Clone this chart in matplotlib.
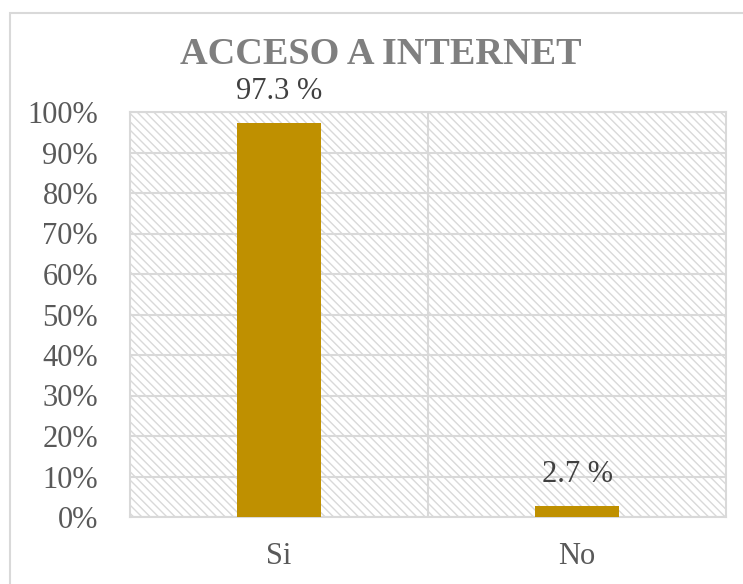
import matplotlib
matplotlib.use("Agg")
import matplotlib.pyplot as plt
from matplotlib.patches import Rectangle
from matplotlib.ticker import PercentFormatter

categories = ["Si", "No"]
values = [97.3, 2.7]
value_labels = ["97.3 %", "2.7 %"]
title = "ACCESO A INTERNET"

BAR_COLOR = "#BF9000"
GRID_COLOR = "#D9D9D9"
TEXT_COLOR = "#595959"

plt.rcParams["font.family"] = ["Liberation Serif", "DejaVu Serif"]
plt.rcParams["hatch.color"] = "#D9D9D9"
plt.rcParams["hatch.linewidth"] = 1.0

fig = plt.figure(figsize=(7.43, 5.84), dpi=100)
ax = fig.add_axes([130 / 743, 67 / 584, 596 / 743, 405 / 584])

# hatched plot background
bg = Rectangle((0, 0), 1, 1, transform=ax.transAxes, facecolor="white",
               edgecolor="#D9D9D9", linewidth=0, hatch="\\\\\\\\", zorder=0)
ax.add_patch(bg)

x = list(range(len(categories)))
ax.bar(x, values, width=0.28, color=BAR_COLOR, zorder=3)

for xi, v, lab in zip(x, values, value_labels):
    ax.annotate(lab, (xi, v), xytext=(0, 12), textcoords="offset points",
                ha="center", va="bottom", fontsize=22, color="#404040")

ax.set_xlim(-0.5, len(categories) - 0.5)
ax.set_ylim(0, 100)
ax.set_yticks(range(0, 101, 10))
ax.yaxis.set_major_formatter(PercentFormatter(decimals=0))
ax.set_xticks(x)
ax.set_xticklabels(categories)
ax.set_xticks([0.5], minor=True)

ax.grid(axis="y", color=GRID_COLOR, linewidth=1.5, zorder=1)
ax.grid(axis="x", which="minor", color=GRID_COLOR, linewidth=1.5, zorder=1)
ax.grid(axis="x", which="major", visible=False)
ax.set_axisbelow(True)

for s in ax.spines.values():
    s.set_color(GRID_COLOR)
    s.set_linewidth(1.5)

ax.tick_params(axis="both", which="both", length=0, labelsize=22,
               labelcolor=TEXT_COLOR)
ax.tick_params(axis="y", pad=23)
ax.tick_params(axis="x", pad=18)

fig.text(0.512, 1 - 55 / 584, title, ha="center", va="center",
         fontsize=27.5, fontweight="bold", color="#7F7F7F")

# chart area border (right and bottom lie outside the image)
fig.patches.append(Rectangle((10 / 743, -0.1), 1.2, 1 - 13 / 584 + 0.1,
                             transform=fig.transFigure, fill=False,
                             edgecolor=GRID_COLOR, linewidth=1.5))

fig.savefig("out.png", dpi=100)
